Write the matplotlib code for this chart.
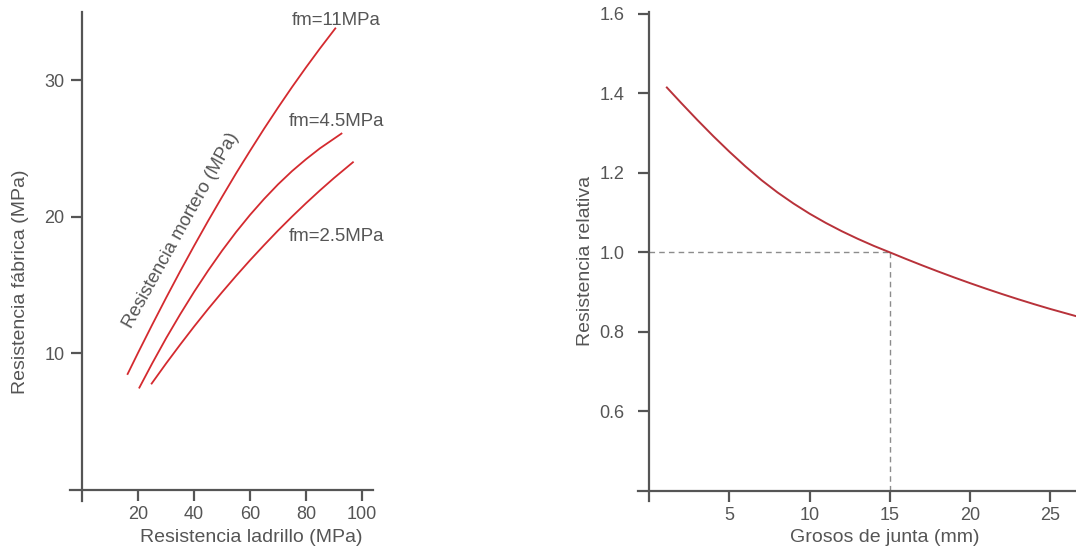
import matplotlib.pyplot as plt

plt.rcParams['font.family'] = ['Liberation Sans', 'DejaVu Sans']

# left chart: masonry strength vs brick strength, one curve per mortar
brick_11 = [16.2, 20, 25, 30, 35, 40, 45, 50, 55, 60, 65, 70, 75, 80, 85, 90.5]
wall_11 = [8.5, 10.08, 12.11, 14.09, 16.02, 17.89, 19.71, 21.47, 23.19, 24.84,
           26.45, 28.00, 29.50, 30.94, 32.33, 33.8]
brick_45 = [20.4, 25, 30, 35, 40, 45, 50, 55, 60, 65, 70, 75, 80, 85, 92.7]
wall_45 = [7.5, 9.28, 11.13, 12.87, 14.52, 16.07, 17.53, 18.89, 20.15, 21.31,
           22.38, 23.35, 24.22, 25.02, 26.1]
brick_25 = [24.8, 30, 35, 40, 45, 50, 55, 60, 65, 70, 75, 80, 85, 90, 96.8]
wall_25 = [7.8, 9.28, 10.65, 11.98, 13.26, 14.49, 15.68, 16.83, 17.93, 19.0,
           20.02, 21.0, 21.94, 22.84, 24.0]
curve_labels = ['fm=11MPa', 'fm=4.5MPa', 'fm=2.5MPa']

# right chart: relative strength vs joint thickness
joint = [1.1, 2, 3, 4, 5, 6, 7, 8, 9, 10, 11, 12, 13, 14, 15,
         16, 17, 18, 19, 20, 21, 22, 23, 24, 25, 26.6]
rel = [1.415, 1.3758, 1.3333, 1.2923, 1.2533, 1.2163, 1.1818, 1.1508, 1.1228,
       1.0973, 1.0743, 1.0533, 1.0341, 1.0163, 1.0, 0.9835, 0.9675, 0.952,
       0.937, 0.9225, 0.9085, 0.895, 0.882, 0.8695, 0.8575, 0.8395]

grey = '#555555'
red_l = '#d42a2f'
red_r = '#b8323a'
fs_tick = 13
fs_lab = 14


def style_axes(ax, ypad):
    for s in ['top', 'right']:
        ax.spines[s].set_visible(False)
    for s in ['left', 'bottom']:
        ax.spines[s].set_color(grey)
        ax.spines[s].set_linewidth(1.6)
    ax.tick_params(colors=grey, labelcolor=grey, labelsize=fs_tick,
                   length=8, width=1.6)
    ax.tick_params(axis='x', pad=3.5)
    ax.tick_params(axis='y', pad=ypad)


fig = plt.figure(figsize=(10.76, 5.56), dpi=100)

ax1 = fig.add_axes([0.0651, 0.0989, 0.2816, 0.8795])
style_axes(ax1, 5)
ax1.spines['left'].set_position(('data', 0))
ax1.spines['bottom'].set_position(('data', 0))
ax1.set_xlim(-4.4, 104)
ax1.set_ylim(-0.8, 35)
ax1.set_xticks([20, 40, 60, 80, 100])
ax1.set_yticks([10, 20, 30])

for xs, ys in [(brick_11, wall_11), (brick_45, wall_45), (brick_25, wall_25)]:
    ax1.plot(xs, ys, color=red_l, lw=1.3)

ax1.text(90.7, 34.4, curve_labels[0], color=grey, fontsize=13.4, ha='center', va='center')
ax1.text(91.1, 27.0, curve_labels[1], color=grey, fontsize=13.4, ha='center', va='center')
ax1.text(91.1, 18.6, curve_labels[2], color=grey, fontsize=13.4, ha='center', va='center')
ax1.text(35.3, 19.0, 'Resistencia mortero (MPa)', color=grey, fontsize=13.4,
         rotation=61, rotation_mode='anchor', ha='center', va='center')

ax1.set_xlabel('Resistencia ladrillo (MPa)', color=grey, fontsize=fs_lab)
ax1.set_ylabel('Resistencia fábrica (MPa)', color=grey, fontsize=fs_lab)
ax1.xaxis.set_label_coords(0.597, -0.058)
ax1.yaxis.set_label_coords(-0.135, 0.448)

ax2 = fig.add_axes([0.5929, 0.0995, 0.4071, 0.8789])
style_axes(ax2, 10)
ax2.spines['left'].set_position(('data', 0))
ax2.spines['bottom'].set_position(('data', 0.4))
ax2.set_xlim(-0.7, 26.6)
ax2.set_ylim(0.375, 1.605)
ax2.set_xticks([5, 10, 15, 20, 25])
ax2.set_yticks([0.6, 0.8, 1.0, 1.2, 1.4, 1.6])
ax2.yaxis.set_major_formatter(plt.FormatStrFormatter('%.1f'))

ax2.plot([0, 15], [1.0, 1.0], color='#8c8c8c', lw=1.0, ls=(0, (4, 3)))
ax2.plot([15, 15], [0.4, 1.0], color='#8c8c8c', lw=1.0, ls=(0, (4, 3)))
ax2.plot(joint, rel, color=red_r, lw=1.4, clip_on=False)

ax2.set_xlabel('Grosos de junta (mm)', color=grey, fontsize=fs_lab)
ax2.set_ylabel('Resistencia relativa', color=grey, fontsize=fs_lab)
ax2.xaxis.set_label_coords(0.564, -0.058)
ax2.yaxis.set_label_coords(-0.1, 0.49)

fig.savefig('out.png', dpi=100)
